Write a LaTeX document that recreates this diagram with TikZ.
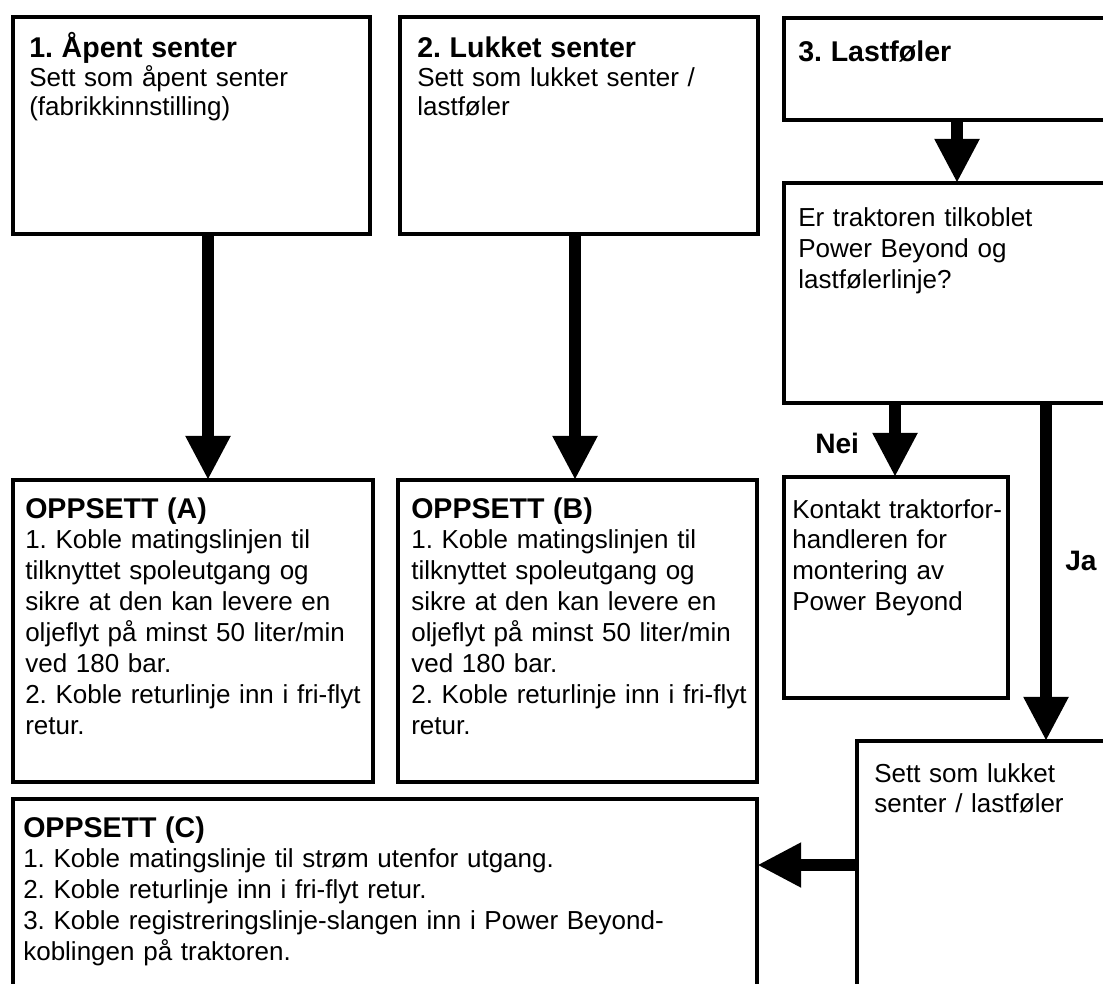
\documentclass[tikz,border=0pt]{standalone}
\usepackage{fontspec}
\setmainfont{Liberation Sans}
\usetikzlibrary{arrows.meta}
\frenchspacing
\newcommand{\boxtitle}[1]{{\fontsize{20.3}{22}\selectfont\bfseries #1}}

\begin{document}
\begin{tikzpicture}[
  x=0.025cm, y=-0.025cm,
  box/.style={rectangle, draw, line width=0.1cm, outer sep=0pt, inner sep=0pt, anchor=north west},
  txt/.style={anchor=base west, inner sep=0pt, text width=#1, align=left,
              font=\fontsize{18.5}{22}\selectfont},
  txt/.default=8cm,
  arr/.style={-{Triangle[length=1.1cm, width=1.05cm]}, line width=0.32cm},
  lbl/.style={anchor=base west, inner sep=0pt, font=\fontsize{20}{22}\selectfont\bfseries},
]
\useasboundingbox (0,0) rectangle (1103,984);
\clip (0,0) rectangle (1103,984);

% boxes
\node[box, minimum width=8.925cm, minimum height=5.425cm] (b1)  at (13,17)  {};
\node[box, minimum width=8.95cm,  minimum height=5.425cm] (b2)  at (400,17) {};
\node[box, minimum width=8.5cm,   minimum height=2.55cm]  (b3)  at (784,18) {};
\node[box, minimum width=8.5cm,   minimum height=5.5cm]   (q)   at (784,183) {};
\node[box, minimum width=5.6cm,   minimum height=5.525cm] (nei) at (784,477) {};
\node[box, minimum width=6.9cm,   minimum height=7cm]     (ja)  at (857,741) {};
\node[box, minimum width=9cm,     minimum height=7.55cm]  (A)   at (13,480) {};
\node[box, minimum width=8.975cm, minimum height=7.55cm]  (B)   at (398,480) {};
\node[box, minimum width=18.6cm,  minimum height=5.5cm]   (C)   at (13,799) {};

% texts
\node[txt, font=\fontsize{18.5}{20.6}\selectfont] (t1) at ([shift={(16,41)}]b1.north west)
  {\boxtitle{1. Åpent senter}\\Sett som åpent senter\\(fabrikkinnstilling)};
\node[txt, font=\fontsize{18.5}{20.6}\selectfont] (t2) at ([shift={(17,41)}]b2.north west)
  {\boxtitle{2. Lukket senter}\\Sett som lukket senter /\\lastføler};
\node[txt] (t3) at ([shift={(14,44)}]b3.north west) {\boxtitle{3. Lastføler}};
\node[txt] (tq) at ([shift={(14,44)}]q.north west)
  {Er traktoren tilkoblet\\Power Beyond og\\lastfølerlinje?};
\node[txt] (tnei) at ([shift={(8,41)}]nei.north west)
  {Kontakt traktorfor-\\handleren for\\montering av\\Power Beyond};
\node[txt] (tja) at ([shift={(17,41)}]ja.north west)
  {Sett som lukket\\senter / lastføler};
\node[txt=9cm] (tA) at ([shift={(12,38)}]A.north west)
  {\boxtitle{OPPSETT (A)}\\1. Koble matingslinjen til\\tilknyttet spoleutgang og\\sikre at den kan levere en\\oljeflyt på minst 50 liter/min\\ved 180 bar.\\2. Koble returlinje inn i fri-flyt\\retur.};
\node[txt=9cm] (tB) at ([shift={(13,38)}]B.north west)
  {\boxtitle{OPPSETT (B)}\\1. Koble matingslinjen til\\tilknyttet spoleutgang og\\sikre at den kan levere en\\oljeflyt på minst 50 liter/min\\ved 180 bar.\\2. Koble returlinje inn i fri-flyt\\retur.};
\node[txt=18cm] (tC) at ([shift={(10,38)}]C.north west)
  {\boxtitle{OPPSETT (C)}\\1. Koble matingslinje til strøm utenfor utgang.\\2. Koble returlinje inn i fri-flyt retur.\\3. Koble registreringslinje-slangen inn i Power Beyond-\\koblingen på traktoren.};

\node[lbl] (lnei) at (815,453) {Nei};
\node[lbl] (lja)  at (1065,570) {Ja};

% arrows
\coordinate (xa) at (208,0);
\coordinate (xb) at (575,0);
\coordinate (xc) at (957,0);
\coordinate (xn) at (895,0);
\coordinate (xj) at (1046,0);
\coordinate (yc) at (0,865);

\draw[arr] (b1.south -| xa) -- (A.north -| xa);
\draw[arr] (b2.south -| xb) -- (B.north -| xb);
\draw[arr] (b3.south -| xc) -- (q.north -| xc);
\draw[arr] (q.south -| xn) -- (nei.north -| xn);
\draw[arr] (q.south -| xj) -- (ja.north -| xj);
\draw[arr] (ja.west |- yc) -- (C.east |- yc);
\end{tikzpicture}
\end{document}
